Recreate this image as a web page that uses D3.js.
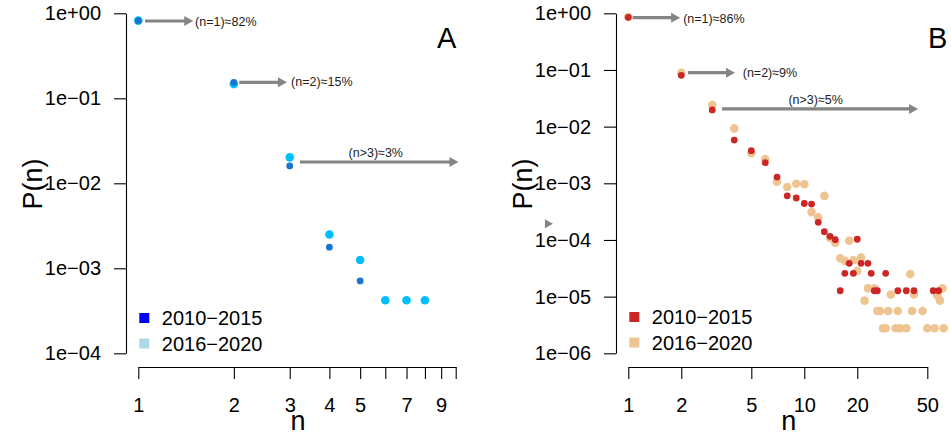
<!DOCTYPE html>
<html>
<head>
<meta charset="utf-8">
<script src="https://cdn.jsdelivr.net/npm/d3@7"></script>
<style>
  body { margin: 0; background: #fff; }
  svg { display: block; font-family: "Liberation Sans", Arial, sans-serif; }
</style>
</head>
<body>
<script>
const width = 951,
  height = 436;

// panel A: distribution of n, two periods
const nA1 = [1, 2, 3, 4, 5];
const pA1 = [0.82, 0.154, 0.016, 0.00177, 0.00071];
const nA2 = [1, 2, 3, 4, 5, 6, 7, 8];
const pA2 = [0.82, 0.147, 0.0202, 0.0025, 0.00125, 0.00042, 0.00042, 0.00042];

// panel B
const nB1 = [1, 2, 3, 4, 5, 6, 7, 8, 9, 10, 11, 12, 13, 14, 15, 16, 17, 18, 19, 20,
  21, 23, 24, 25, 26, 29, 34, 38, 42, 54, 58];
const pB1 = [0.85, 0.0805, 0.0197, 0.0058, 0.00377, 0.00231, 0.00129, 0.0006, 0.00055, 0.00044,
  0.00043, 0.000205, 0.00014, 0.000116, 0.000101, 1.27e-5, 2.58e-5, 3.87e-5, 2.58e-5, 1.03e-4,
  3.87e-5, 3.87e-5, 2.58e-5, 1.27e-5, 1.27e-5, 2.58e-5, 1.27e-5, 1.27e-5, 1.27e-5, 1.27e-5, 1.27e-5];
const nB2 = [1, 2, 3, 4, 5, 6, 7, 8, 9, 10, 11, 12, 13, 14, 15, 16, 17, 18, 19, 20,
  21, 22, 23, 25, 26, 27, 28, 29, 30, 31, 33, 34, 35, 38, 40, 41, 42, 47, 50, 55, 57, 59, 61, 62];
const pB2 = [0.86, 0.0895, 0.0241, 0.0093, 0.0034, 0.00268, 0.00107, 0.00086, 0.00098, 0.00096,
  0.00031, 0.00025, 0.0006, 0.000108, 8.95e-5, 4.75e-5, 4.27e-5, 9.7e-5, 4.4e-5, 2.84e-5,
  4.88e-5, 8.5e-6, 1.4e-5, 1.4e-5, 5.58e-6, 5.58e-6, 2.76e-6, 2.76e-6, 5.58e-6, 1.09e-5,
  2.76e-6, 5.58e-6, 2.76e-6, 2.76e-6, 2.5e-5, 5.58e-6, 1.09e-5, 5.58e-6, 2.76e-6, 2.76e-6,
  1.05e-5, 8.5e-6, 1.4e-5, 2.76e-6];

// axes ticks
const yTicksA = [1, 1e-1, 1e-2, 1e-3, 1e-4];
const yLabelsA = ["1e+00", "1e\u221201", "1e\u221202", "1e\u221203", "1e\u221204"];
const xTicksA = [1, 2, 3, 4, 5, 6, 7, 8, 9, 10];
const xLabelsA = ["1", "2", "3", "4", "5", "", "7", "", "9", ""];
const yTicksB = [1, 1e-1, 1e-2, 1e-3, 1e-4, 1e-5, 1e-6];
const yLabelsB = ["1e+00", "1e\u221201", "1e\u221202", "1e\u221203", "1e\u221204", "1e\u221205", "1e\u221206"];
const xTicksB = [1, 2, 5, 10, 20, 50];
const xLabelsB = ["1", "2", "5", "10", "20", "50"];

const series = ["2010\u22122015", "2016\u22122020"];

// arrows: [x start, x end, y], labels: [x, y, text, anchor]
const arrowsA = [[1.05, 1.49, 0.812], [2.08, 2.94, 0.154], [3.23, 10.2, 0.0178]];
const labelsA = [[1.51, 0.8, "(n=1)\u224882%", "start"], [3.03, 0.156, "(n=2)\u224815%", "start"],
  [5.6, 0.0232, "(n>3)\u22483%", "middle"]];
const arrowsB = [[1.06, 1.97, 0.836], [2.18, 4.04, 0.0895], [3.41, 44.3, 0.0205], [0.336, 0.336, 1.93e-4]];
const labelsB = [[2.05, 0.8, "(n=1)\u224886%", "start"], [4.47, 0.0895, "(n=2)\u22489%", "start"],
  [11.6, 0.0304, "(n>3)\u22485%", "middle"]];

const svg = d3
  .select("body")
  .append("svg")
  .attr("width", width)
  .attr("height", height);

function drawPanel(cfg) {
  const x = d3.scaleLog().domain(cfg.xDomain).range(cfg.xRange);
  const y = d3.scaleLog().domain(cfg.yDomain).range([353.3, 13.3]);
  const g = svg.append("g");
  const axisX = cfg.xRange[0] - 12.3;
  const axisY = 367;

  const styleAxis = (sel) => {
    sel.attr("font-family", null).attr("font-size", 20).attr("color", "#000");
    sel.selectAll("path, line").attr("stroke", "#000").attr("stroke-width", 1.1);
  };

  g.append("g")
    .attr("transform", `translate(${axisX},0)`)
    .call(
      d3.axisLeft(y)
        .tickValues(cfg.yTicks)
        .tickFormat((d) => cfg.yLabels[cfg.yTicks.indexOf(d)])
        .tickSize(12)
        .tickSizeOuter(0)
        .tickPadding(13)
    )
    .call(styleAxis);

  g.append("g")
    .attr("transform", `translate(0,${axisY})`)
    .call(
      d3.axisBottom(x)
        .tickValues(cfg.xTicks)
        .tickFormat((d) => cfg.xLabels[cfg.xTicks.indexOf(d)])
        .tickSize(12)
        .tickSizeOuter(0)
        .tickPadding(19)
    )
    .call(styleAxis);

  // axis titles
  g.append("text")
    .attr("x", (cfg.xRange[0] + cfg.xRange[1]) / 2 + cfg.nShift)
    .attr("y", 430)
    .attr("text-anchor", "middle")
    .attr("font-size", 27)
    .text("n");
  g.append("text")
    .attr("transform", `translate(${axisX - 84},184) rotate(-90)`)
    .attr("text-anchor", "middle")
    .attr("font-size", 27)
    .text("P(n)");

  // panel letter
  g.append("text")
    .attr("x", cfg.letterX)
    .attr("y", 48)
    .attr("font-size", 29)
    .text(cfg.letter);

  // points, newer period underneath
  g.append("g")
    .selectAll("circle")
    .data(cfg.n2.map((d, i) => [d, cfg.p2[i]]))
    .join("circle")
    .attr("cx", (d) => x(d[0]))
    .attr("cy", (d) => y(d[1]))
    .attr("r", 4.3)
    .attr("fill", cfg.pointColors[1]);
  g.append("g")
    .selectAll("circle")
    .data(cfg.n1.map((d, i) => [d, cfg.p1[i]]))
    .join("circle")
    .attr("cx", (d) => x(d[0]))
    .attr("cy", (d) => y(d[1]))
    .attr("r", 3.4)
    .attr("fill", cfg.pointColors[0]);

  // arrows
  const head = 9, half = 5;
  cfg.arrows.forEach((a) => {
    const x0 = x(a[0]), x1 = x(a[1]), yy = y(a[2]);
    if (x1 - head > x0) {
      g.append("line")
        .attr("x1", x0).attr("x2", x1 - head + 1)
        .attr("y1", yy).attr("y2", yy)
        .attr("stroke", "#858585")
        .attr("stroke-width", 3.2);
      g.append("path")
        .attr("d", `M${x1},${yy}L${x1 - head},${yy - half}L${x1 - head},${yy + half}Z`)
        .attr("fill", "#858585");
    } else {
      // a lone arrowhead
      g.append("path")
        .attr("d", `M${x1 + 8},${yy}L${x1},${yy - 4.5}L${x1},${yy + 4.5}Z`)
        .attr("fill", "#858585");
    }
  });
  cfg.labels.forEach((l) => {
    g.append("text")
      .attr("x", x(l[0]))
      .attr("y", y(l[1]))
      .attr("dy", "0.35em")
      .attr("text-anchor", l[3])
      .attr("font-size", 12.5)
      .attr("fill", "#222")
      .text(l[2]);
  });

  // legend
  const leg = g.append("g").attr("transform", `translate(${cfg.xRange[0]},0)`);
  series.forEach((s, i) => {
    const cy = cfg.legendY + i * 25.5;
    leg.append("rect")
      .attr("x", 1).attr("y", cy - 5)
      .attr("width", 10).attr("height", 10)
      .attr("fill", cfg.legendColors[i]);
    leg.append("text")
      .attr("x", 23.5).attr("y", cy)
      .attr("dy", "0.35em")
      .attr("font-size", 20)
      .text(s);
  });
}

drawPanel({
  xDomain: [1, 10], xRange: [138.3, 455.7],
  yDomain: [1e-4, 1],
  xTicks: xTicksA, xLabels: xLabelsA, yTicks: yTicksA, yLabels: yLabelsA,
  n1: nA1, p1: pA1, n2: nA2, p2: pA2,
  pointColors: ["#1874CD", "#00BFFF"],
  legendColors: ["#0000FF", "#ADD8E6"],
  legendY: 318,
  arrows: arrowsA, labels: labelsA,
  letter: "A", letterX: 437, nShift: 1
});

drawPanel({
  xDomain: [1, 50], xRange: [628.3, 927.3],
  yDomain: [1e-6, 1],
  xTicks: xTicksB, xLabels: xLabelsB, yTicks: yTicksB, yLabels: yLabelsB,
  n1: nB1, p1: pB1, n2: nB2, p2: pB2,
  pointColors: ["#CD2626", "#EEC591"],
  legendColors: ["#CD2626", "#EEC591"],
  legendY: 317,
  arrows: arrowsB, labels: labelsB,
  letter: "B", letterX: 928, nShift: 11
});
</script>
</body>
</html>
